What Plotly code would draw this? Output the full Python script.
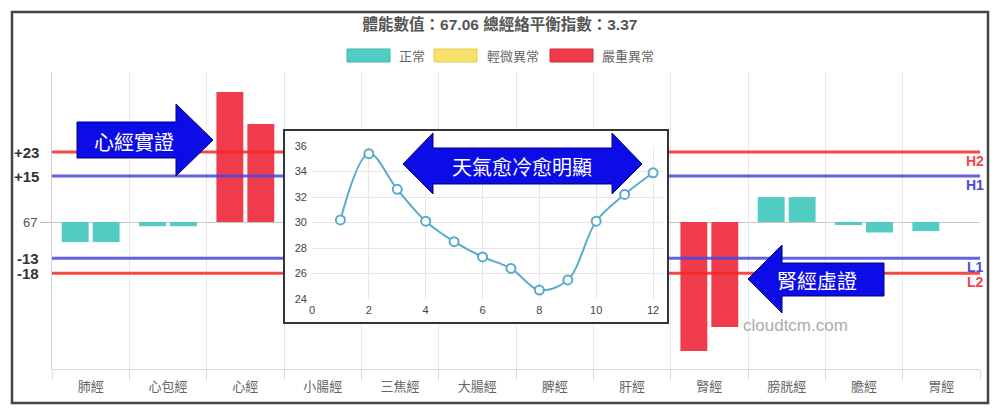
import plotly.graph_objects as go

# ---------------- data ----------------
categories = ["肺經", "心包經", "心經", "小腸經", "三焦經", "大腸經",
              "脾經", "肝經", "腎經", "膀胱經", "膽經", "胃經"]
left_values = [-6.7, -1.4, 43.3, 3.0, -4.0, 2.0, -3.0, 6.0, -43.0, 8.3, -1.0, -3.0]
right_values = [-6.7, -1.4, 32.7, -2.0, 1.0, 5.0, -5.0, 4.0, -35.0, 8.3, -3.5, 0.0]

threshold_names = ["H2", "H1", "L1", "L2"]
threshold_values = [23.3, 15.3, -12.1, -17.1]
threshold_labels = ["+23", "+15", "-13", "-18"]
baseline_label = "67"

severity_names = ["正常", "輕微異常", "嚴重異常"]

months = list(range(1, 13))
temperatures = [30.2, 35.4, 32.6, 30.1, 28.5, 27.3, 26.4, 24.7, 25.5, 30.1, 32.2, 33.9]

title_text = "體能數值：67.06 總經絡平衡指數：3.37"
arrow_texts = ["心經實證", "天氣愈冷愈明顯", "腎經虛證"]
watermark = "cloudtcm.com"

# ---------------- styles ----------------
FONT = "Liberation Sans, Noto Sans CJK TC, sans-serif"
CJK = "Noto Sans CJK TC, sans-serif"
sev_fill = ["#52cdc3", "#f8e16a", "#ef3b4b"]
sev_border = ["#3fb5ac", "#e2c94e", "#c92f3d"]
th_colors = ["rgba(245,40,40,0.85)", "rgba(70,70,225,0.85)",
             "rgba(70,70,225,0.85)", "rgba(245,40,40,0.85)"]
th_text_colors = ["#ef4450", "#4a4ad6", "#4a4ad6", "#ef4450"]
ARROW_FILL = "#0c0ce6"
ARROW_EDGE = "#00007a"

W, H = 1000, 415
L, R, T, B = 52, 980, 72, 369


def px(x):
    return (x - L) / (R - L)


def py(y):
    return (B - y) / (B - T)


def severity(v):
    if v > threshold_values[0] or v < threshold_values[3]:
        return 2
    if v > threshold_values[1] or v < threshold_values[2]:
        return 1
    return 0


xs = list(range(len(categories)))
fig = go.Figure()

for vals in (left_values, right_values):
    fig.add_trace(go.Bar(
        x=xs, y=vals,
        marker=dict(color=[sev_fill[severity(v)] for v in vals], line=dict(width=0)),
        showlegend=False, hoverinfo="skip",
    ))

for name, val, col in zip(threshold_names, threshold_values, th_colors):
    fig.add_trace(go.Scatter(
        x=[-0.6, len(categories) - 0.4], y=[val, val], mode="lines",
        line=dict(color=col, width=3), showlegend=False, hoverinfo="skip", name=name,
    ))

# box subplot (white cover) and inset chart
fig.add_trace(go.Scatter(x=[], y=[], xaxis="x3", yaxis="y3", showlegend=False))
fig.add_trace(go.Scatter(
    x=months, y=temperatures, xaxis="x4", yaxis="y4",
    mode="lines+markers",
    line=dict(color="#5aabc9", width=2, shape="spline", smoothing=1.0),
    marker=dict(symbol="circle", size=9, color="white",
                line=dict(color="#5aabc9", width=2)),
    cliponaxis=False, showlegend=False, hoverinfo="skip",
))

shapes = []
# outer frame
shapes.append(dict(type="rect", xref="paper", yref="paper",
                   x0=px(12), x1=px(988), y0=py(403), y1=py(12),
                   line=dict(color="#444", width=2.5), fillcolor="rgba(0,0,0,0)"))
# inset border
shapes.append(dict(type="rect", xref="paper", yref="paper",
                   x0=px(284), x1=px(668), y0=py(323), y1=py(130),
                   line=dict(color="#333", width=2), fillcolor="rgba(0,0,0,0)"))

annotations = []
# legend
legend_boxes = [(347, 397), (434, 485), (550, 600)]
for i, (bx, tx) in enumerate(legend_boxes):
    shapes.append(dict(type="rect", xref="paper", yref="paper",
                       x0=px(bx), x1=px(bx + 43), y0=py(62), y1=py(49),
                       fillcolor=sev_fill[i], line=dict(color=sev_border[i], width=1)))
    annotations.append(dict(text=severity_names[i], xref="paper", yref="paper",
                            x=px(tx), y=py(55.5), xanchor="left", yanchor="middle",
                            showarrow=False, font=dict(family=CJK, size=13, color="#666")))

# white cover above double arrow
shapes.append(dict(type="rect", xref="paper", yref="paper",
                   x0=px(433), x1=px(612), y0=py(148), y1=py(131.5),
                   fillcolor="white", line=dict(width=0)))


def path(points):
    s = "M " + " L ".join(f"{px(x):.5f},{py(y):.5f}" for x, y in points) + " Z"
    return s


arrow1 = [(77, 122), (176, 122), (176, 104), (213, 140), (176, 176), (176, 158), (77, 158)]
arrow2 = [(403, 164), (433, 133), (433, 148), (612, 148), (612, 133), (642, 164),
          (612, 194), (612, 184), (433, 184), (433, 194)]
arrow3 = [(748, 279), (782, 245), (782, 263), (884, 263), (884, 296), (782, 296), (782, 313)]
for pts in (arrow1, arrow2, arrow3):
    shapes.append(dict(type="path", xref="paper", yref="paper", path=path(pts),
                       fillcolor=ARROW_FILL, line=dict(color=ARROW_EDGE, width=1)))

for txt, (cx, cy) in zip(arrow_texts, [(134, 141), (522, 166), (817, 280)]):
    annotations.append(dict(text=txt, xref="paper", yref="paper", x=px(cx), y=py(cy),
                            xanchor="center", yanchor="middle", showarrow=False,
                            font=dict(family=CJK, size=20, color="white")))

# left threshold labels
for lab, val in zip(threshold_labels, threshold_values):
    annotations.append(dict(text=f"<b>{lab}</b>", xref="paper", yref="y",
                            x=px(41), y=val, xanchor="right", yanchor="middle",
                            showarrow=False, font=dict(family=FONT, size=15, color="#333")))
# right threshold labels
for name, val, col in zip(threshold_names, threshold_values, th_text_colors):
    annotations.append(dict(text=f"<b>{name}</b>", xref="paper", yref="y",
                            x=px(986), y=val, xanchor="right", yanchor="top",
                            yshift=1, showarrow=False,
                            font=dict(family=FONT, size=14, color=col)))

# watermark
annotations.append(dict(text=watermark, xref="paper", yref="paper", x=px(795), y=py(325),
                        xanchor="center", yanchor="middle", showarrow=False,
                        font=dict(family=FONT, size=17, color="#ababab")))

fig.update_layout(
    width=W, height=H,
    margin=dict(l=L, r=W - R, t=T, b=H - B, pad=0),
    paper_bgcolor="white", plot_bgcolor="white",
    barmode="group", bargap=0.2, bargroupgap=0.13,
    title=dict(text=f"<b>{title_text}</b>", x=0.5, xanchor="center",
               xref="container", yref="container", y=1 - 25 / H, yanchor="middle",
               font=dict(family=FONT, size=15.5, color="#555")),
    showlegend=False,
    xaxis=dict(range=[-0.5, len(categories) - 0.5], tickmode="array",
               tickvals=xs, ticktext=categories, ticks="", showgrid=False,
               zeroline=False, showline=True, linecolor="#dcdcdc", linewidth=1,
               ticklabelstandoff=5,
               tickfont=dict(family=CJK, size=13, color="#666"),
               minor=dict(tickmode="array",
                          tickvals=[i - 0.5 for i in range(len(categories) + 1)],
                          showgrid=True, gridcolor="#e8e8e8", gridwidth=1,
                          ticks="outside", ticklen=10, tickcolor="#dcdcdc")),
    yaxis=dict(range=[-49, 50], tickmode="array", tickvals=[0], ticktext=[baseline_label],
               ticks="outside", ticklen=11, tickcolor="#bbb", showgrid=False,
               zeroline=True, zerolinecolor="#c8c8c8", zerolinewidth=1,
               showline=True, linecolor="#cfcfcf", linewidth=1,
               tickfont=dict(family=FONT, size=13, color="#555")),
    xaxis3=dict(domain=[px(284), px(668)], anchor="y3", visible=False, range=[0, 1]),
    yaxis3=dict(domain=[py(323), py(130)], anchor="x3", visible=False, range=[0, 1]),
    xaxis4=dict(domain=[px(312), px(663)], anchor="y4", range=[0, 12.35],
                tickmode="array", tickvals=[0, 2, 4, 6, 8, 10, 12],
                showgrid=True, gridcolor="#e6e6e6", zeroline=False, showline=False,
                ticks="", ticklabelstandoff=3,
                tickfont=dict(family=FONT, size=11, color="#444")),
    yaxis4=dict(domain=[py(299), py(146)], anchor="x4", range=[24, 36],
                tickmode="array", tickvals=[24, 26, 28, 30, 32, 34, 36],
                showgrid=True, gridcolor="#e6e6e6", zeroline=False, showline=False,
                ticks="", ticklabelstandoff=4,
                tickfont=dict(family=FONT, size=11, color="#444")),
    shapes=shapes,
    annotations=annotations,
)

fig.write_html("out.html", config={"displayModeBar": False},
               post_script="document.body.style.margin='0';")
